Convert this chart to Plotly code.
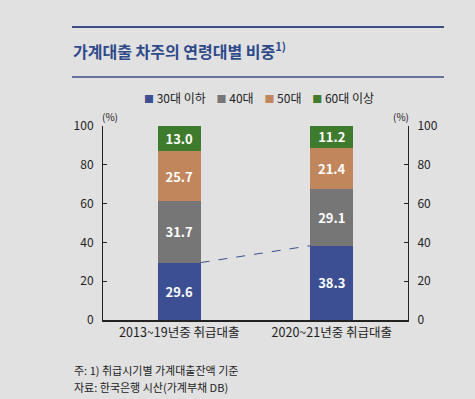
import plotly.graph_objects as go

categories = ["2013~19년중 취급대출", "2020~21년중 취급대출"]
series_names = ["30대 이하", "40대", "50대", "60대 이상"]
v30 = [29.6, 38.3]
v40 = [31.7, 29.1]
v50 = [25.7, 21.4]
v60 = [13.0, 11.2]
colors = ["#3d4f93", "#767676", "#c2865c", "#3f7b2c"]
yticks = [0, 20, 40, 60, 80, 100]

FONT = "Noto Sans CJK KR"
BG = "#e1e1e1"
BAR_W = 0.28
xpos = list(range(len(categories)))

W, H = 475, 399
ML, MR, MT, MB = 103, 67, 126, 79
PW, PH = W - ML - MR, H - MT - MB


def px(x):
    return (x - ML) / PW


def py(y):
    return (H - MB - y) / PH


fig = go.Figure()
for name, vals, col in zip(series_names, [v30, v40, v50, v60], colors):
    fig.add_trace(go.Bar(
        x=xpos, y=vals, name=name, marker=dict(color=col, line=dict(width=0)),
        width=BAR_W, text=vals, texttemplate="%{y:.1f}", textposition="inside",
        insidetextanchor="middle", showlegend=False,
        textfont=dict(family=FONT, size=13, color="white", weight="bold"),
    ))

# dashed connector between tops of 30대 segments
fig.add_trace(go.Scatter(
    x=[xpos[0] + BAR_W / 2, xpos[1] - BAR_W / 2], y=[v30[0], v30[1]],
    mode="lines", line=dict(color="#3d4f93", width=1, dash="dash"),
    showlegend=False, hoverinfo="skip",
))
# invisible trace for right axis
fig.add_trace(go.Scatter(x=[xpos[0]], y=[0], yaxis="y2", mode="markers",
                         marker=dict(opacity=0), showlegend=False, hoverinfo="skip"))

axis_common = dict(range=[0, 100], tickvals=yticks, ticks="inside", ticklen=4,
                   tickcolor="#222", showline=True, linecolor="#222", linewidth=1,
                   showgrid=False, zeroline=False,
                   tickfont=dict(family=FONT, size=12, color="#222"))

fig.update_layout(
    width=W, height=H,
    paper_bgcolor=BG, plot_bgcolor=BG,
    barmode="stack",
    margin=dict(l=ML, r=MR, t=MT, b=MB, autoexpand=False),
    font=dict(family=FONT, color="#222"),
    uniformtext=dict(minsize=13, mode="show"),
    xaxis=dict(range=[-0.5, 1.5], tickvals=xpos, ticktext=categories,
               showline=True, linecolor="#222", linewidth=1.5, ticks="",
               showgrid=False, zeroline=False, automargin=False,
               tickfont=dict(family=FONT, size=12.5, color="#222")),
    yaxis=dict(**axis_common, side="left", ticklabelstandoff=6, automargin=False),
    yaxis2=dict(**axis_common, side="right", overlaying="y", ticklabelstandoff=6,
                automargin=False),
    showlegend=False,
)

# title rules
for yy, w in [(27, 2), (77, 1.5)]:
    fig.add_shape(type="line", xref="paper", yref="paper",
                  x0=px(72), x1=px(444), y0=py(yy), y1=py(yy),
                  line=dict(color="#3b4f86", width=w))

fig.add_annotation(text="<b>가계대출 차주의 연령대별 비중<sup>1)</sup></b>",
                   xref="paper", yref="paper", x=px(71), xanchor="left",
                   y=py(50), yanchor="middle", showarrow=False,
                   font=dict(family=FONT, size=16, color="#2f4a8a"))

# legend (manual, compact)
legend_text = "    ".join(
    f'<span style="color:{c}; font-size:10px">■</span> {n}'
    for n, c in zip(series_names, colors))
fig.add_annotation(text=legend_text, xref="paper", yref="paper", x=px(259),
                   xanchor="center", y=py(97), yanchor="middle", showarrow=False,
                   font=dict(family=FONT, size=12, color="#222"))

fig.add_annotation(text="(%)", xref="paper", yref="paper", x=px(110),
                   xanchor="center", y=py(117), yanchor="middle",
                   showarrow=False, font=dict(family=FONT, size=10, color="#222"))
fig.add_annotation(text="(%)", xref="paper", yref="paper", x=px(401),
                   xanchor="center", y=py(117), yanchor="middle",
                   showarrow=False, font=dict(family=FONT, size=10, color="#222"))

fig.add_annotation(text="주: 1) 취급시기별 가계대출잔액 기준", xref="paper", yref="paper",
                   x=px(72), xanchor="left", y=py(370),
                   yanchor="middle", showarrow=False,
                   font=dict(family=FONT, size=11, color="#222"))
fig.add_annotation(text="자료: 한국은행 시산(가계부채 DB)", xref="paper", yref="paper",
                   x=px(72), xanchor="left", y=py(387),
                   yanchor="middle", showarrow=False,
                   font=dict(family=FONT, size=11, color="#222"))

fig.write_html(
    "out.html",
    config={"displayModeBar": False},
    post_script="document.body.style.margin='0';document.body.style.background='%s';" % BG,
)
